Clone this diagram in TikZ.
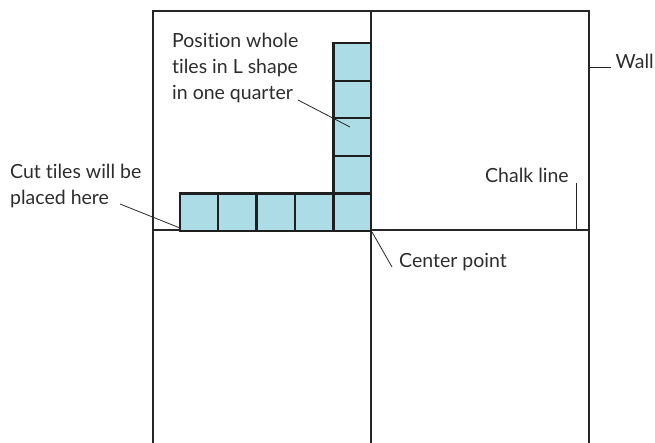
\documentclass[tikz,border=0pt]{standalone}
\usepackage{fontspec}
\setmainfont{Lato}[Ligatures={NoCommon}]
\definecolor{tileblue}{RGB}{172,221,231}
\definecolor{ink}{RGB}{38,38,38}
\definecolor{txt}{RGB}{45,45,45}
\begin{document}
\begin{tikzpicture}[x=1pt,y=-1pt,
  wallline/.style={draw=ink,line width=1.4pt},
  tile/.style={draw=black!88,line width=2.2pt,fill=tileblue,minimum width=38.2pt,minimum height=37.6pt,inner sep=0pt,outer sep=0pt},
  vtile/.style={tile,minimum width=37.6pt},
  lbl/.style={text=txt,font=\fontsize{19.5}{26}\selectfont,inner sep=0pt,align=left},
  leader/.style={draw=ink,line width=0.8pt}]
\useasboundingbox[fill=white] (0,0) rectangle (655,442);
% walls and chalk lines
\draw[wallline] (153,444) -- (153,11) -- (589,11) -- (589,444);
\draw[wallline] (371,11) -- (371,444);
\draw[wallline] (153,230) -- (589,230);
% tiles: horizontal row
\node[tile,anchor=south east] (h1) at (218.2,231) {};
\node[tile,anchor=south east] (h2) at (256.4,231) {};
\node[tile,anchor=south east] (h3) at (294.6,231) {};
\node[tile,anchor=south east] (h4) at (332.8,231) {};
% tiles: vertical column
\node[vtile,anchor=south east] (v1) at (371,231) {};
\node[vtile,anchor=south east] (v2) at (371,193.4) {};
\node[vtile,anchor=south east] (v3) at (371,155.8) {};
\node[vtile,anchor=south east] (v4) at (371,118.2) {};
\node[vtile,anchor=south east] (v5) at (371,80.6) {};
% labels
\node[lbl,anchor=north west] (pos) at (172,33) {Position whole\\tiles in L shape\\in one quarter};
\node[lbl,anchor=north west] (cut) at (10,164) {Cut tiles will be\\placed here};
\node[lbl,anchor=base west] (wall) at (615.5,68) {Wall};
\node[lbl,anchor=base west] (chalk) at (485,182) {Chalk line};
\node[lbl,anchor=base west] (center) at (399,267) {Center point};
% leader endpoints
\coordinate (posA) at (298,100);
\coordinate (posB) at (350,127);
\coordinate (cutA) at (120,204);
\coordinate (cutB) at (180,228);
\coordinate (wallA) at (590,67);
\coordinate (wallB) at (611,67);
\coordinate (chalkA) at (576,183);
\coordinate (chalkB) at (576,230);
\coordinate (cenA) at (372,232);
\coordinate (cenB) at (392,267);
\draw[leader] (posA) -- (posB);
\draw[leader] (cutA) -- (cutB);
\draw[leader] (wallA) -- (wallB);
\draw[leader] (chalkA) -- (chalkB);
\draw[leader] (cenA) -- (cenB);
\end{tikzpicture}
\end{document}
